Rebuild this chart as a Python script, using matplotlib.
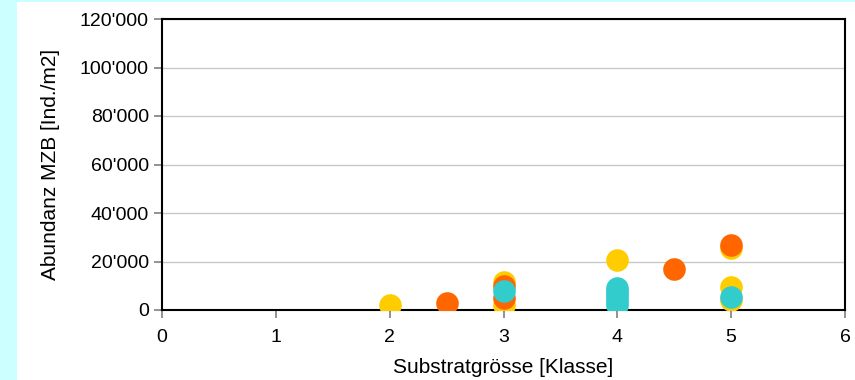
import matplotlib.pyplot as plt
from matplotlib.patches import Rectangle
from matplotlib.ticker import FuncFormatter

plt.rcParams['font.family'] = ['Liberation Sans', 'DejaVu Sans']

# data
yellow_x = [2, 3, 3, 4, 5, 5, 5]
yellow_y = [2000, 11700, 2000, 20600, 25500, 9600, 4000]
orange_x = [2.5, 3, 3, 4.5, 5]
orange_y = [3000, 10000, 5000, 17000, 27000]
cyan_x = [3, 4, 4, 4, 4, 4, 4, 5]
cyan_y = [7800, 2000, 3500, 5000, 6500, 8000, 9000, 5300]

x_ticks = [0, 1, 2, 3, 4, 5, 6]
y_ticks = [0, 20000, 40000, 60000, 80000, 100000, 120000]

fig = plt.figure(figsize=(8.55, 3.8), dpi=100)
fig.patch.set_facecolor('#CCFFFF')
fig.patches.append(Rectangle((17 / 855, 0), 1 - 17 / 855, 1 - 2 / 380,
                             transform=fig.transFigure, facecolor='white',
                             edgecolor='none', zorder=-10))

ax = fig.add_axes([162 / 855, 70 / 380, 683 / 855, 291 / 380])
ax.set_zorder(5)
ax.set_facecolor('white')

ms = 265
ax.scatter(yellow_x, yellow_y, s=ms, color='#FFCC00', zorder=3, linewidths=0)
ax.scatter(orange_x, orange_y, s=ms, color='#FF6600', zorder=4, linewidths=0)
ax.scatter(cyan_x, cyan_y, s=ms, color='#33CCCC', zorder=5, linewidths=0)

ax.set_xlim(0, 6)
ax.set_ylim(0, 120000)
ax.set_xticks(x_ticks)
ax.set_yticks(y_ticks)
ax.yaxis.set_major_formatter(FuncFormatter(lambda v, p: f"{int(v):,}".replace(',', "'")))
ax.grid(axis='y', color='#C8C8C8', linewidth=1)
ax.set_axisbelow(True)

for s in ax.spines.values():
    s.set_color('black')
    s.set_linewidth(1.5)
ax.tick_params(axis='both', colors='#808080', labelcolor='black', labelsize=14,
               length=6, width=1.2, direction='out')
ax.tick_params(axis='x', pad=8)

ax.set_xlabel('Substratgrösse [Klasse]', fontsize=15, labelpad=8)
ax.set_ylabel('Abundanz MZB [Ind./m2]', fontsize=15, labelpad=14)

fig.savefig('out.png', dpi=100, facecolor=fig.get_facecolor())
